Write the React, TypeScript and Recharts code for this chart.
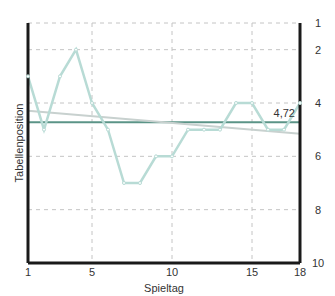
import { LineChart, Line, XAxis, YAxis, CartesianGrid, ReferenceLine, Label } from 'recharts'

// Tabellenposition je Spieltag
const spieltage = [1, 2, 3, 4, 5, 6, 7, 8, 9, 10, 11, 12, 13, 14, 15, 16, 17, 18]
const positionen = [3, 5, 3, 2, 4, 5, 7, 7, 6, 6, 5, 5, 5, 4, 4, 5, 5, 4]
const durchschnitt = 4.72
const trendX = [1, 18]
const trendY = [4.29, 5.15]
const xTicks = [1, 5, 10, 15, 18]
const yTicks = [1, 2, 4, 6, 8, 10]
const gridY = [1, 2, 4, 6, 8]
const gridX = [5, 10, 15]

const data = spieltage.map((s, i) => ({ x: s, pos: positionen[i] }))
const trend = trendX.map((x, i) => ({ x, trend: trendY[i] }))

const font = { fontFamily: '"Liberation Sans", Arial, sans-serif', fontSize: 11, fill: '#333' }

const RightTick = (props: any) => {
  const { x, y, payload } = props
  return (
    <text x={x} y={y} dy={4} textAnchor="middle" style={font}>{payload.value}</text>
  )
}

export default function App() {
  return (
    <div style={{ position: 'absolute', left: 0, top: 0, background: '#fff' }}>
      <LineChart width={335} height={296} data={data} margin={{ top: 23, right: 0, left: 0, bottom: 0 }}>
        <CartesianGrid
          yAxisId="r"
          stroke="#c4c4c4"
          strokeDasharray="4 4"
          horizontalValues={gridY}
          verticalValues={gridX}
        />
        <XAxis
          dataKey="x"
          type="number"
          domain={[1, 18]}
          ticks={xTicks}
          height={33}
          axisLine={{ stroke: '#1a1a1a', strokeWidth: 3 }}
          tickLine={false}
          tickSize={3}
          tick={font}
        >
          <Label value="Spieltag" position="insideBottom" offset={4} style={font} />
        </XAxis>
        <YAxis
          yAxisId="l"
          orientation="left"
          width={28}
          type="number"
          domain={[1, 10]}
          reversed
          tick={false}
          tickLine={false}
          axisLine={{ stroke: '#1a1a1a', strokeWidth: 3 }}
        >
          <Label value="Tabellenposition" angle={-90} position="insideLeft" offset={19} style={{ ...font, textAnchor: 'middle' }} />
        </YAxis>
        <YAxis
          yAxisId="r"
          orientation="right"
          width={35}
          type="number"
          domain={[1, 10]}
          reversed
          ticks={yTicks}
          interval={0}
          tickLine={false}
          tickSize={0}
          tickMargin={18}
          tick={<RightTick />}
          axisLine={{ stroke: '#1a1a1a', strokeWidth: 3 }}
        />
        <ReferenceLine
          yAxisId="r"
          y={durchschnitt}
          stroke="#5b9487"
          strokeWidth={2}
          label={{ value: '4,72', position: 'insideBottomRight', offset: 5, style: font }}
        />
        <Line
          yAxisId="r"
          data={trend}
          dataKey="trend"
          stroke="#c8d1cf"
          strokeWidth={2}
          dot={false}
          isAnimationActive={false}
        />
        <Line
          yAxisId="r"
          dataKey="pos"
          stroke="#b8dbd5"
          strokeWidth={2.5}
          dot={{ r: 1.5, fill: '#fff', stroke: '#b8dbd5', strokeWidth: 1 }}
          isAnimationActive={false}
        />
      </LineChart>
    </div>
  )
}
